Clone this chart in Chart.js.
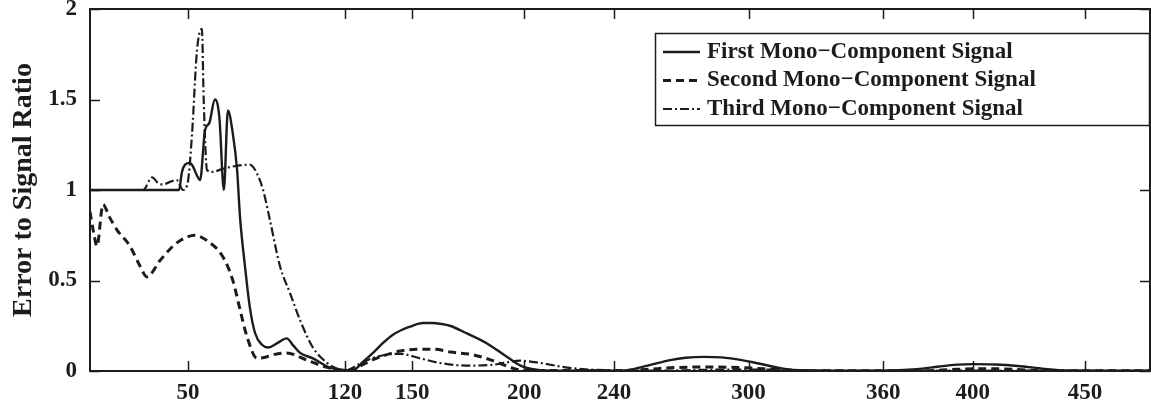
<!DOCTYPE html>
<html>
<head>
<meta charset="utf-8">
<script src="https://cdn.jsdelivr.net/npm/chart.js@4.4.0/dist/chart.umd.min.js"></script>
<style>
  html, body { margin: 0; padding: 0; background: #fff; }
</style>
</head>
<body>
<canvas id="grafico" width="1151" height="410"></canvas>
<script>
// Valores
const xTicks = [50, 120, 150, 200, 240, 300, 360, 400, 450];
const yTicks = [0, 0.5, 1, 1.5, 2];

const etiquetas = [
    'First Mono\u2212Component Signal',
    'Second Mono\u2212Component Signal',
    'Third Mono\u2212Component Signal'
];

const firstX = [6.3, 46, 47.3, 48.7, 50.9, 52.2, 54, 55.4, 57.6, 59.5, 62, 64, 66, 67.8, 70, 71.9, 73.2, 75.4, 77.6, 79.9, 83, 85.7, 90, 94, 97, 100, 105.7, 113, 121, 123.6, 128, 132.5, 137, 141.4, 145, 149, 154.8, 159, 163, 166.8, 174, 183, 192, 199, 207, 220, 240, 246, 255, 265, 272, 280, 288, 297, 305, 317, 330, 360, 375, 385, 393, 400, 410, 420, 432, 442, 460, 479];
const firstY = [1, 1, 1.1, 1.14, 1.15, 1.13, 1.08, 1.055, 1.33, 1.37, 1.50, 1.40, 1.0, 1.44, 1.31, 1.11, 0.85, 0.58, 0.35, 0.21, 0.145, 0.13, 0.155, 0.18, 0.14, 0.10, 0.07, 0.02, 0.005, 0.005, 0.05, 0.10, 0.155, 0.20, 0.225, 0.245, 0.265, 0.265, 0.26, 0.25, 0.21, 0.155, 0.08, 0.025, 0.005, 0.002, 0.002, 0.005, 0.03, 0.06, 0.073, 0.078, 0.075, 0.06, 0.04, 0.01, 0.002, 0.002, 0.01, 0.025, 0.035, 0.038, 0.036, 0.028, 0.012, 0.003, 0.001, 0.001];

const secondX = [6.3, 8, 9.4, 12.1, 15, 18.3, 24.1, 28.6, 31.7, 37.5, 43.3, 46.4, 53, 58.5, 65.6, 70, 73, 76.3, 80.8, 84, 88, 94, 103, 112, 118, 122, 128, 134, 144.5, 152, 160, 167, 177, 186, 195, 200, 240, 254, 265, 280, 295, 312, 320, 380, 390, 400, 410, 420, 430, 479];
const secondY = [0.88, 0.76, 0.69, 0.92, 0.85, 0.78, 0.69, 0.58, 0.52, 0.61, 0.69, 0.72, 0.75, 0.72, 0.63, 0.50, 0.35, 0.19, 0.07, 0.075, 0.09, 0.10, 0.06, 0.02, 0.005, 0, 0.035, 0.07, 0.11, 0.12, 0.12, 0.105, 0.09, 0.057, 0.015, 0.003, 0.002, 0.008, 0.018, 0.022, 0.02, 0.008, 0.002, 0.002, 0.008, 0.012, 0.012, 0.008, 0.002, 0.001];

const thirdX = [6.3, 30, 34, 36.5, 38.9, 42, 45, 47.8, 50, 51.8, 54, 56.2, 57, 58.5, 61, 65, 70, 77.6, 80.8, 83.5, 86.6, 91, 95.5, 100, 105.7, 112, 116, 120, 126.7, 132, 138.7, 144.5, 153.5, 162, 174, 184.7, 191, 198, 207, 216, 226, 240, 260, 290, 310, 330, 350, 390, 410, 479];
const thirdY = [1, 1, 1.07, 1.04, 1.03, 1.045, 1.055, 1.0, 1.05, 1.31, 1.77, 1.89, 1.50, 1.11, 1.10, 1.115, 1.13, 1.14, 1.09, 1.0, 0.83, 0.58, 0.43, 0.28, 0.13, 0.045, 0.015, 0.003, 0.04, 0.07, 0.09, 0.095, 0.07, 0.045, 0.03, 0.033, 0.045, 0.057, 0.045, 0.025, 0.01, 0.004, 0.002, 0.008, 0.008, 0.003, 0.001, 0.002, 0.002, 0.001];

const fuente = "'Liberation Serif', 'Times New Roman', serif";
const tinta = '#1c1c1c';

const aPuntos = (xs, ys) => xs.map((x, i) => ({ x: x, y: ys[i] }));

// Marco, marcas hacia adentro y leyenda con borde (estilo MATLAB)
const marcoPlugin = {
    id: 'marco',
    afterDraw(chart) {
        const ctx = chart.ctx;
        const area = chart.chartArea;
        const sx = chart.scales.x;
        const sy = chart.scales.y;
        const largo = 10;

        ctx.save();
        ctx.strokeStyle = tinta;
        ctx.lineWidth = 1.5;
        ctx.setLineDash([]);
        xTicks.forEach(v => {
            const px = Math.round(sx.getPixelForValue(v)) + 0.5;
            ctx.beginPath();
            ctx.moveTo(px, area.bottom);
            ctx.lineTo(px, area.bottom - largo);
            ctx.moveTo(px, area.top);
            ctx.lineTo(px, area.top + largo);
            ctx.stroke();
        });
        yTicks.forEach(v => {
            const py = Math.round(sy.getPixelForValue(v)) + 0.5;
            ctx.beginPath();
            ctx.moveTo(area.left, py);
            ctx.lineTo(area.left + largo, py);
            ctx.moveTo(area.right, py);
            ctx.lineTo(area.right - largo, py);
            ctx.stroke();
        });
        ctx.lineWidth = 2;
        ctx.strokeRect(area.left, area.top, area.right - area.left, area.bottom - area.top);

        // leyenda
        const ancho = 495, alto = 93;
        const lx = area.right - ancho;
        const ly = area.top + 24;
        ctx.fillStyle = '#fff';
        ctx.fillRect(lx, ly, ancho, alto);
        ctx.lineWidth = 1.5;
        ctx.strokeRect(lx + 0.5, ly + 0.5, ancho - 1, alto - 1);
        ctx.font = 'bold 23px ' + fuente;
        ctx.textBaseline = 'middle';
        chart.data.datasets.forEach((ds, i) => {
            const cy = ly + 19 + i * 28.5;
            ctx.strokeStyle = ds.borderColor;
            ctx.lineWidth = ds.borderWidth;
            ctx.setLineDash(ds.borderDash || []);
            ctx.beginPath();
            ctx.moveTo(lx + 8, cy);
            ctx.lineTo(lx + 45, cy);
            ctx.stroke();
            ctx.setLineDash([]);
            ctx.fillStyle = tinta;
            ctx.fillText(ds.label, lx + 52, cy);
        });
        ctx.restore();
    }
};

const grafico = document.getElementById('grafico').getContext('2d');

window.graficaError = new Chart(grafico, {
    type: 'line',
    data: {
        datasets: [
            {
                label: etiquetas[0],
                data: aPuntos(firstX, firstY),
                borderColor: tinta,
                borderWidth: 2.4,
                borderDash: [],
                pointRadius: 0,
                cubicInterpolationMode: 'monotone'
            },
            {
                label: etiquetas[1],
                data: aPuntos(secondX, secondY),
                borderColor: tinta,
                borderWidth: 3,
                borderDash: [8, 5],
                pointRadius: 0,
                cubicInterpolationMode: 'monotone'
            },
            {
                label: etiquetas[2],
                data: aPuntos(thirdX, thirdY),
                borderColor: tinta,
                borderWidth: 2.2,
                borderDash: [9, 3, 2, 3],
                pointRadius: 0,
                cubicInterpolationMode: 'monotone'
            }
        ]
    },
    options: {
        responsive: false,
        animation: false,
        devicePixelRatio: 1,
        layout: {
            autoPadding: false,
            padding: { top: 9, right: 1, left: 0, bottom: 0 }
        },
        plugins: {
            legend: { display: false },
            tooltip: { enabled: false }
        },
        scales: {
            x: {
                type: 'linear',
                min: 6.3,
                max: 479,
                afterBuildTicks: (scale) => {
                    scale.ticks = xTicks.map(v => ({ value: v }));
                },
                afterFit: (scale) => {
                    scale.height = 39;
                    scale.paddingLeft = 0;
                    scale.paddingRight = 0;
                },
                grid: { display: false, drawTicks: false },
                border: { display: false },
                ticks: {
                    autoSkip: false,
                    maxRotation: 0,
                    padding: 8,
                    color: tinta,
                    font: { family: fuente, size: 23, weight: 'bold' },
                    callback: (v) => String(v)
                }
            },
            y: {
                min: 0,
                max: 2,
                afterBuildTicks: (scale) => {
                    scale.ticks = yTicks.map(v => ({ value: v }));
                },
                afterFit: (scale) => {
                    scale.width = 90;
                    scale.paddingTop = 0;
                    scale.paddingBottom = 0;
                },
                grid: { display: false, drawTicks: false },
                border: { display: false },
                title: {
                    display: true,
                    text: 'Error to Signal Ratio',
                    color: tinta,
                    padding: { top: 7, bottom: 0 },
                    font: { family: fuente, size: 28, weight: 'bold' }
                },
                ticks: {
                    padding: 13,
                    color: tinta,
                    font: { family: fuente, size: 23, weight: 'bold' },
                    callback: (v) => String(v)
                }
            }
        }
    },
    plugins: [marcoPlugin]
});
</script>
</body>
</html>
